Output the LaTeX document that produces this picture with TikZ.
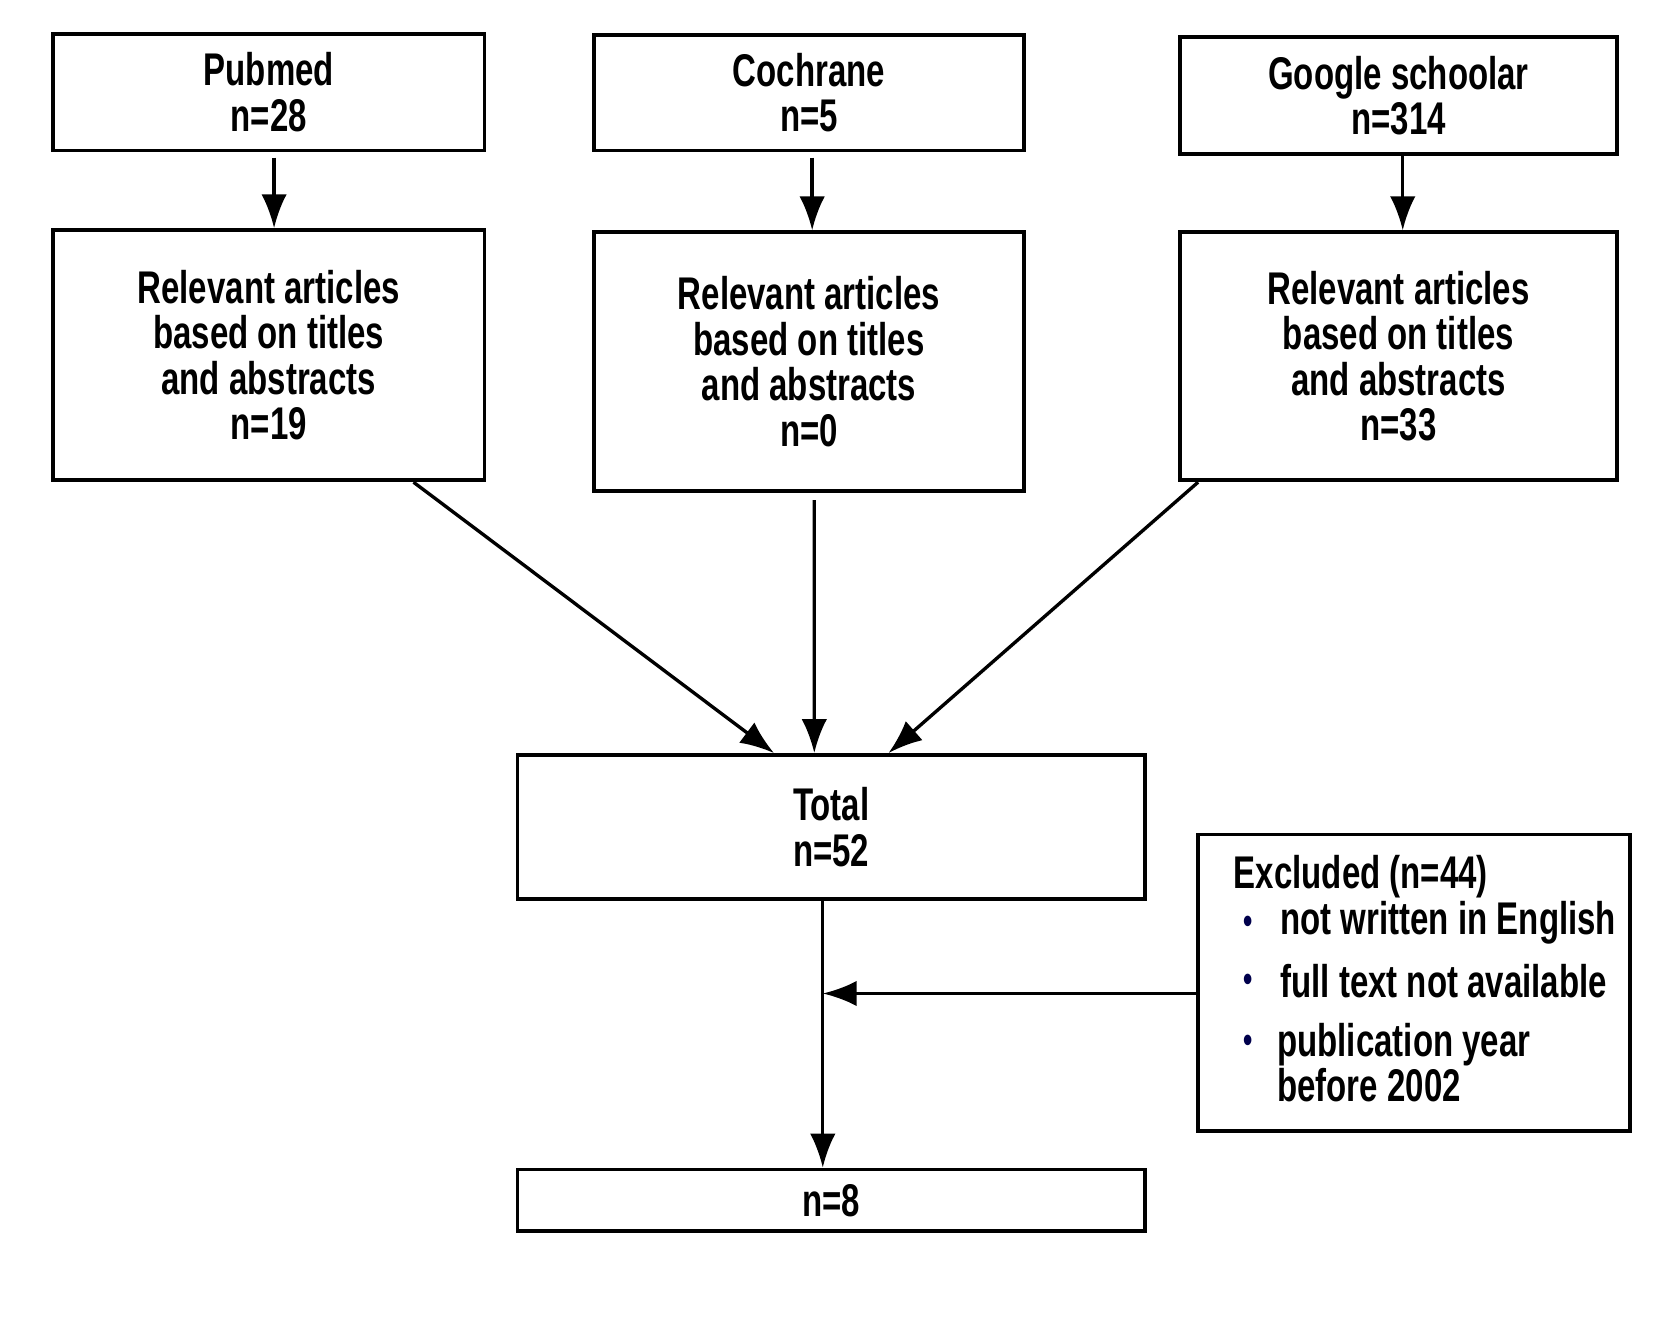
\documentclass[tikz,border=0pt]{standalone}
\usepackage{fontspec}
\setmainfont[FakeStretch=0.72]{Liberation Sans}
\usetikzlibrary{arrows.meta}
\begin{document}
\begin{tikzpicture}
[%%%%%%%%%%%%%%%%%%%%%%%%%%%%%%
box/.style={rectangle,draw=black,line width=1pt,align=center,inner sep=0pt,
  font=\bfseries\fontsize{12.3}{12.2}\selectfont},
arr/.style={line width=0.9pt,-{Latex[length=3.2mm,width=2.4mm]}},
txt/.style={anchor=west,inner sep=0pt,font=\bfseries\fontsize{12.3}{12.2}\selectfont},
]%%%%%%%%%%%%%%%%%%%%%%%%%%%%%%
\useasboundingbox (0,0) rectangle (15.60,-12.49);

\node[box,minimum width=4.07cm,minimum height=1.10cm] (pub) at (2.535,-0.87){Pubmed\\n=28};
\node[box,minimum width=4.06cm,minimum height=1.09cm] (coc) at (7.63,-0.875){Cochrane\\n=5};
\node[box,minimum width=4.12cm,minimum height=1.10cm] (goo) at (13.19,-0.90){Google schoolar\\n=314};

\node[box,minimum width=4.07cm,minimum height=2.36cm] (pubr) at (2.535,-3.35){Relevant articles\\based on titles\\and abstracts\\n=19};
\node[box,minimum width=4.06cm,minimum height=2.44cm] (cocr) at (7.63,-3.41){Relevant articles\\based on titles\\and abstracts\\n=0};
\node[box,minimum width=4.12cm,minimum height=2.34cm] (goor) at (13.19,-3.36){Relevant articles\\based on titles\\and abstracts\\n=33};

\node[box,minimum width=5.92cm,minimum height=1.36cm] (total) at (7.84,-7.80){Total\\n=52};
\node[box,minimum width=5.92cm,minimum height=0.58cm] (fin) at (7.84,-11.32){n=8};
\node[box,minimum width=4.07cm,minimum height=2.80cm] (ex) at (13.335,-9.27){};

% excluded text
\node[txt] (ex0) at (11.63,-8.27){Excluded (n=44)};
\node[txt,text=blue!30!black,scale=0.8] (b1) at (11.72,-8.72){\textbullet};
\node[txt] (ex1) at (12.07,-8.70){not written in English};
\node[txt,text=blue!30!black,scale=0.8] (b2) at (11.72,-9.27){\textbullet};
\node[txt] (ex2) at (12.07,-9.25){full text not available};
\node[txt,text=blue!30!black,scale=0.8] (b3) at (11.72,-9.84){\textbullet};
\node[txt,align=left,anchor=north west] (ex3) at (12.04,-9.64){publication year\\before 2002};

\draw[arr] ([xshift=0.05cm,yshift=-0.05cm]pub.south) -- ([xshift=0.05cm]pubr.north);
\draw[arr] ([xshift=0.03cm,yshift=-0.05cm]coc.south) -- ([xshift=0.03cm]cocr.north);
\draw[arr] ([xshift=0.04cm]goo.south) -- ([xshift=0.04cm]goor.north);

\draw[arr] ([xshift=1.365cm]pubr.south) -- ([xshift=-0.54cm]total.north);
\draw[arr] ([xshift=0.05cm,yshift=-0.07cm]cocr.south) -- ([xshift=-0.16cm]total.north);
\draw[arr] ([xshift=-1.89cm]goor.south) -- ([xshift=0.54cm]total.north);

\draw[arr] ([xshift=-0.08cm]total.south) -- ([xshift=-0.08cm]fin.north);
\coordinate (jn) at (7.76,-9.37);
\draw[arr] (ex.west|-jn) -- (jn);
\end{tikzpicture}
\end{document}
